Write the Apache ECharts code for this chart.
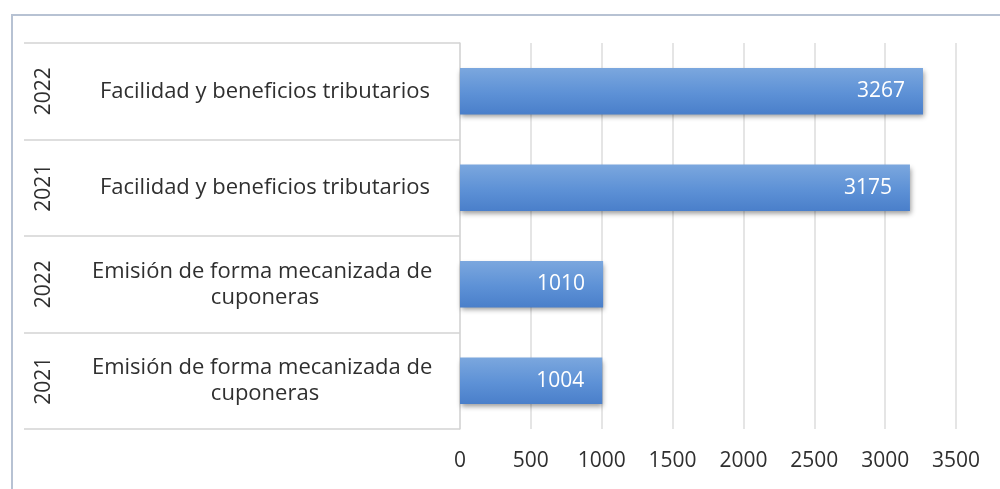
<!DOCTYPE html>
<html>
<head>
<meta charset="utf-8">
<style>
  html, body { margin: 0; padding: 0; background: #fff; }
  #chart { width: 1000px; height: 489px; }
</style>
<script src="https://cdn.jsdelivr.net/npm/echarts@6/dist/echarts.min.js"></script>
</head>
<body>
<div id="chart"></div>
<script>
// rows listed bottom to top, as the category axis draws them
const years = ['2021', '2022', '2021', '2022']
const categories = [
  'Emisión de forma mecanizada de cuponeras',
  'Emisión de forma mecanizada de cuponeras',
  'Facilidad y beneficios tributarios',
  'Facilidad y beneficios tributarios'
]
const values = [1004, 1010, 3175, 3267]
const xMin = 0
const xMax = 3500
const xStep = 500

const font = '"Open Sans", Lato, sans-serif'
const textColor = '#2f2f2f'

const chart = echarts.init(document.getElementById('chart'))

chart.setOption({
  animation: false,
  textStyle: { fontFamily: font },
  graphic: [{
    type: 'rect',
    shape: { x: 12, y: 15, width: 1100, height: 600 },
    style: { fill: 'none', stroke: '#b7c2d3', lineWidth: 2 },
    silent: true
  }],
  grid: { left: 460, right: 44, top: 43, bottom: 60 },
  xAxis: {
    type: 'value',
    min: xMin,
    max: xMax,
    interval: xStep,
    axisLine: { show: false },
    axisTick: { show: false },
    splitLine: { lineStyle: { color: '#dcdcdc', width: 1.5 } },
    axisLabel: {
      color: textColor,
      fontSize: 21,
      margin: 22,
      fontFamily: font,
      formatter: (v) => String(v)
    }
  },
  yAxis: [{
    type: 'category',
    data: categories,
    axisLine: { show: true, lineStyle: { color: '#d9d9d9', width: 1.5 } },
    axisTick: { show: true, length: 436, lineStyle: { color: '#d4d4d4', width: 1.5 } },
    axisLabel: {
      color: textColor,
      fontSize: 22,
      fontFamily: font,
      align: 'center',
      margin: 195,
      width: 380,
      overflow: 'break',
      lineHeight: 26
    }
  }, {
    type: 'category',
    data: years,
    position: 'left',
    axisLine: { show: false },
    axisTick: { show: false },
    axisLabel: {
      color: textColor,
      fontSize: 21,
      fontFamily: font,
      rotate: 90,
      margin: 405
    }
  }],
  series: [{
    type: 'bar',
    data: values,
    barWidth: '48%',
    itemStyle: {
      color: new echarts.graphic.LinearGradient(0, 0, 0, 1, [
        { offset: 0, color: '#7ba7de' },
        { offset: 0.55, color: '#5d91d6' },
        { offset: 1, color: '#4a7fca' }
      ]),
      shadowColor: 'rgba(0,0,0,0.4)',
      shadowBlur: 5,
      shadowOffsetY: 3,
      shadowOffsetX: 1
    },
    label: {
      show: true,
      position: 'insideRight',
      distance: 18,
      color: '#fff',
      fontSize: 21,
      fontFamily: font
    }
  }]
})
</script>
</body>
</html>
